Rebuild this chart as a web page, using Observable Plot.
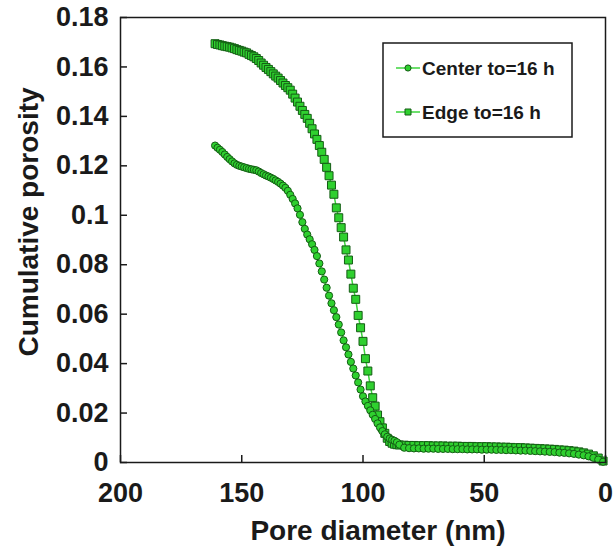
<!DOCTYPE html>
<html>
<head>
<meta charset="utf-8">
<script src="https://cdn.jsdelivr.net/npm/d3@7"></script>
<script src="https://cdn.jsdelivr.net/npm/@observablehq/plot@0.6"></script>
<style>
  body { margin: 0; background: #fff; }
  #chart svg { display: block; }
</style>
</head>
<body>
<div id="chart"></div>
<script>
// Pore diameter (nm) of each intrusion step
const diameter = [
  161, 160, 159, 158, 157, 156, 155, 154, 153, 152,
  151, 150, 149, 148, 147, 146, 145, 144, 143, 142,
  141, 140, 139, 138, 137, 136, 135, 134, 133, 132,
  131, 130, 129, 128, 127, 126, 125, 124, 123, 122,
  121, 120, 119, 118, 117, 116, 115, 114, 113, 112,
  111, 110, 109, 108, 107, 106, 105, 104, 103, 102,
  101, 100, 99, 98, 97, 96, 95, 94, 93, 92,
  91, 90, 89, 88, 87, 86, 85,
  83, 81, 79, 77, 75, 73, 71, 69, 67, 65,
  63, 61, 59, 57, 55, 53, 51, 49, 47, 45,
  43, 41, 39, 37, 35, 33, 31, 29, 27, 25,
  23, 21, 19, 17, 15, 13, 11, 9, 7, 5,
  3, 1
];

// Cumulative porosity, centre of the specimen
const centerPorosity = [
  0.1282, 0.1273, 0.1265, 0.1256, 0.1246, 0.1236, 0.1227, 0.1218, 0.1210, 0.1204,
  0.1200, 0.1197, 0.1194, 0.1191, 0.1188, 0.1186, 0.1184, 0.1182, 0.1177, 0.1171,
  0.1166, 0.1161, 0.1157, 0.1152, 0.1147, 0.1141, 0.1135, 0.1128, 0.1120, 0.1111,
  0.1099, 0.1083, 0.1066, 0.1048, 0.1028, 0.1002, 0.0972, 0.0945, 0.0922, 0.0903,
  0.0883, 0.0860, 0.0835, 0.0805, 0.0773, 0.0740, 0.0707, 0.0675, 0.0644, 0.0616,
  0.0588, 0.0558, 0.0526, 0.0494, 0.0466, 0.0437, 0.0407, 0.0380, 0.0352, 0.0324,
  0.0295, 0.0268, 0.0247, 0.0229, 0.0211, 0.0193, 0.0176, 0.0158, 0.0142, 0.0127,
  0.0114, 0.0104, 0.0097, 0.0092, 0.0088, 0.0082, 0.0072,
  0.0060, 0.0058, 0.0057, 0.0057, 0.0056, 0.0056, 0.0056, 0.0055, 0.0055, 0.0055,
  0.0054, 0.0054, 0.0054, 0.0053, 0.0053, 0.0053, 0.0052, 0.0052, 0.0052, 0.0051,
  0.0051, 0.0050, 0.0050, 0.0049, 0.0048, 0.0048, 0.0047, 0.0046, 0.0045, 0.0044,
  0.0043, 0.0042, 0.0040, 0.0039, 0.0037, 0.0035, 0.0032, 0.0029, 0.0025, 0.0019,
  0.0012, 0.0003
];

// Cumulative porosity, edge of the specimen
const edgePorosity = [
  0.1694, 0.1691, 0.1689, 0.1686, 0.1684, 0.1682, 0.1680, 0.1677, 0.1674, 0.1670,
  0.1667, 0.1664, 0.1660, 0.1657, 0.1651, 0.1646, 0.1641, 0.1634, 0.1626, 0.1616,
  0.1607, 0.1598, 0.1590, 0.1581, 0.1572, 0.1563, 0.1555, 0.1545, 0.1535, 0.1525,
  0.1516, 0.1506, 0.1490, 0.1474, 0.1458, 0.1441, 0.1424, 0.1408, 0.1392, 0.1372,
  0.1350, 0.1329, 0.1307, 0.1282, 0.1255, 0.1226, 0.1194, 0.1160, 0.1122, 0.1085,
  0.1030, 0.0990, 0.0950, 0.0912, 0.0860, 0.0819, 0.0762, 0.0705, 0.0660, 0.0595,
  0.0545, 0.0490, 0.0420, 0.0370, 0.0310, 0.0262, 0.0228, 0.0192, 0.0165, 0.0140,
  0.0118, 0.0098, 0.0085, 0.0078, 0.0074, 0.0072, 0.0071,
  0.0070, 0.0069, 0.0069, 0.0068, 0.0068, 0.0068, 0.0067, 0.0067, 0.0067, 0.0066,
  0.0066, 0.0066, 0.0065, 0.0065, 0.0065, 0.0064, 0.0064, 0.0064, 0.0063, 0.0063,
  0.0062, 0.0062, 0.0061, 0.0060, 0.0060, 0.0059, 0.0058, 0.0057, 0.0056, 0.0055,
  0.0054, 0.0053, 0.0051, 0.0050, 0.0048, 0.0046, 0.0043, 0.0039, 0.0034, 0.0027,
  0.0018, 0.0006
];

const seriesNames = ["Center to=16 h", "Edge to=16 h"];
const xTicks = [0, 50, 100, 150, 200];
const yTicks = [0, 0.02, 0.04, 0.06, 0.08, 0.1, 0.12, 0.14, 0.16, 0.18];
const xTitle = "Pore diameter (nm)";
const yTitle = "Cumulative porosity";

const toRows = (values, series) => diameter.map((d, i) => ({d, v: values[i], series}));
const center = toRows(centerPorosity, seriesNames[0]);
const edge = toRows(edgePorosity, seriesNames[1]);

const markerFill = "#2fd02f";
const markerStroke = "#145c14";
const lineColor = "#3cd43c";
const ink = "#1a1a1a";
const font = "'Liberation Sans', Arial, Helvetica, sans-serif";

const plot = Plot.plot({
  width: 616,
  height: 555,
  marginLeft: 120,
  marginRight: 11,
  marginTop: 17,
  marginBottom: 93,
  style: {fontFamily: font, fontWeight: "bold", background: "#fff", color: ink, overflow: "visible"},
  x: {domain: [0, 200], reverse: true},
  y: {domain: [0, 0.18]},
  marks: [
    Plot.axisX({ticks: xTicks, tickSize: -7, tickPadding: 27, fontSize: 27, strokeWidth: 1.5, label: null, tickFormat: d => String(d)}),
    Plot.axisY({ticks: yTicks, tickSize: -7, tickPadding: 19, fontSize: 27, strokeWidth: 1.5, label: null, tickFormat: d => String(+d.toFixed(2))}),
    Plot.line(edge, {x: "d", y: "v", stroke: lineColor, strokeWidth: 1.5}),
    Plot.dot(edge, {x: "d", y: "v", symbol: "square", r: 4.5, fill: markerFill, stroke: markerStroke, strokeWidth: 1}),
    Plot.line(center, {x: "d", y: "v", stroke: lineColor, strokeWidth: 1.5}),
    Plot.dot(center, {x: "d", y: "v", symbol: "circle", r: 3.6, fill: markerFill, stroke: markerStroke, strokeWidth: 1}),
    Plot.frame({stroke: ink, strokeWidth: 1.5}),
    Plot.text([yTitle], {text: d => d, frameAnchor: "left", textAnchor: "middle", lineAnchor: "middle", dx: -91, dy: -18, rotate: -90, fontSize: 28, fontWeight: "bold", fill: ink}),
    Plot.text([xTitle], {text: d => d, frameAnchor: "bottom", textAnchor: "middle", lineAnchor: "middle", dx: 15, dy: 69, fontSize: 28, fontWeight: "bold", fill: ink})
  ]
});

// Legend box in the upper right of the plot area
const svg = d3.select(plot);
const legend = svg.append("g").attr("font-family", font).attr("font-weight", "bold");
legend.append("rect")
  .attr("x", 383).attr("y", 43).attr("width", 189).attr("height", 94)
  .attr("fill", "#fff").attr("stroke", ink).attr("stroke-width", 1.5);

const entries = [
  {name: seriesNames[0], symbol: d3.symbolCircle, size: 30, y: 68},
  {name: seriesNames[1], symbol: d3.symbolSquare, size: 36, y: 112}
];
for (const e of entries) {
  const g = legend.append("g").attr("transform", `translate(0,${e.y})`);
  g.append("line").attr("x1", 396).attr("x2", 420).attr("y1", 0).attr("y2", 0)
    .attr("stroke", lineColor).attr("stroke-width", 1.5);
  g.append("path").attr("d", d3.symbol(e.symbol, e.size)())
    .attr("transform", "translate(408,0)")
    .attr("fill", markerFill).attr("stroke", markerStroke).attr("stroke-width", 1);
  g.append("text").attr("x", 422).attr("y", 0).attr("dy", "0.36em")
    .attr("text-anchor", "start")
    .attr("font-size", 19).attr("fill", ink).text(e.name);
}

document.getElementById("chart").appendChild(plot);
</script>
</body>
</html>
